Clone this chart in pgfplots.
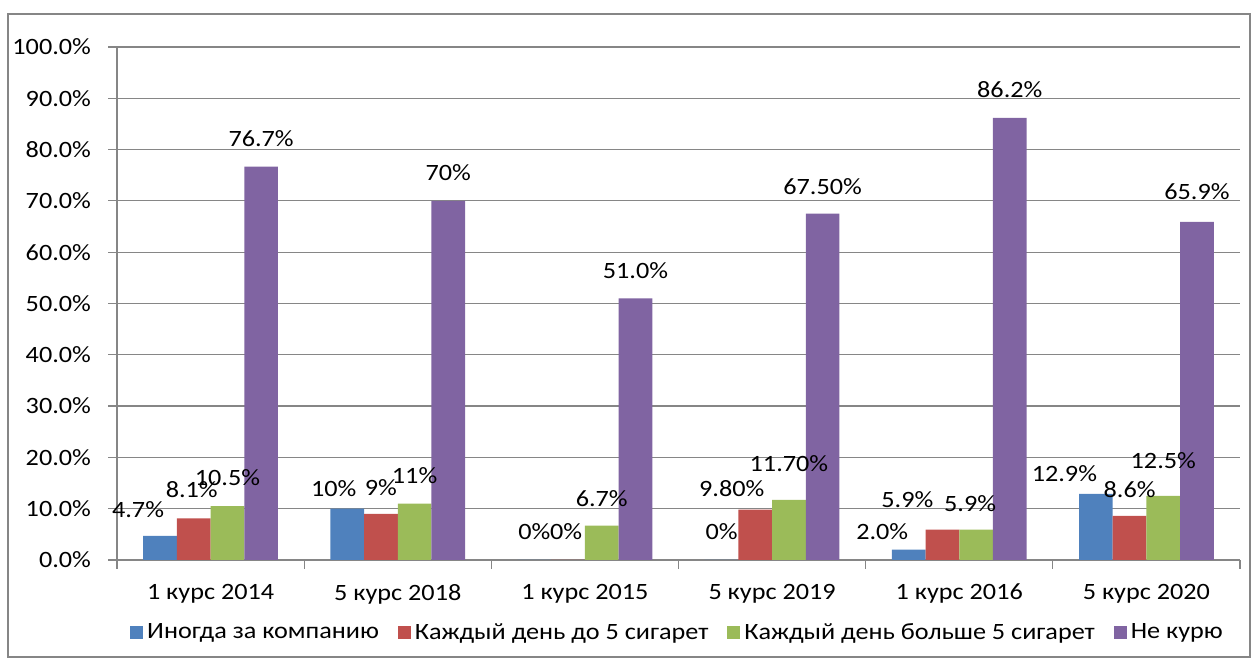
\documentclass[border=0pt]{standalone}
\usepackage{fontspec}
\setmainfont{Carlito}[FakeStretch=1.12]
\usepackage{pgfplots}
\pgfplotsset{compat=1.18}
\usepackage{pgfplotstable}

\definecolor{sBlue}{HTML}{4F81BD}
\definecolor{sRed}{HTML}{C0504D}
\definecolor{sGreen}{HTML}{9BBB59}
\definecolor{sPurple}{HTML}{8064A2}
\definecolor{axGray}{HTML}{868686}

\newcommand{\chartfont}{\fontsize{11.7}{14}\selectfont}

% x = group, y = percent, label = printed value, dx/dy = label offset in pt
\pgfplotstableread{
x y    label dx     dy
0 4.7  4.7   -11    13
1 10   10    -6.75  9.85
2 0    0     0      14
3 0    0     0      14
4 2.0  2.0   -13.25 9.3
5 12.9 12.9  -15.75 9.9
}\tblA
\pgfplotstableread{
x y    label dx     dy
0 8.1  8.1   -1     14.2
1 9    9     0      12.9
2 0    0     -1     14
3 9.8  9.80  -11.75 10.8
4 5.9  5.9   -17.5  15.3
5 8.6  8.6   0      13
}\tblB
\pgfplotstableread{
x y    label dx     dy
0 10.5 10.5  0      14.5
1 11   11    0      13.8
2 6.7  6.7   0      13.5
3 11.7 11.70 0      18.2
4 5.9  5.9   -3     13
5 12.5 12.5  0      17.5
}\tblC
\pgfplotstableread{
x y    label dx     dy
0 76.7 76.7  0      13.8
1 70   70    0      14
2 51.0 51.0  0      13.7
3 67.5 67.50 0      13.5
4 86.2 86.2  0      14
5 65.9 65.9  0      15
}\tblD

\begin{document}
\begin{tikzpicture}[font=\chartfont]
\begin{axis}[
  scale only axis, width=561.5pt, height=256.5pt,
  clip=false,
  ybar, bar width=0.18,
  xmin=-0.5, xmax=5.5, ymin=0, ymax=100,
  axis lines=left,
  axis line style={draw=axGray, line width=0.6pt, -},
  tick align=outside,
  tick style={draw=axGray, line width=0.6pt},
  major tick length=4.5pt,
  xtick={-0.5,0.5,...,5.5}, xticklabels={},
  extra x ticks={0,...,5},
  extra x tick labels={1 курс 2014, 5 курс 2018, 1 курс 2015, 5 курс 2019, 1 курс 2016, 5 курс 2020},
  extra x tick style={major tick length=0pt},
  xticklabel style={yshift=-8.5pt},
  ytick={0,10,...,100},
  yticklabel={\pgfmathprintnumber[fixed,fixed zerofill,precision=1]{\tick}\%},
  yticklabel style={xshift=-5pt},
  /pgf/number format/assume math mode=true,
  tick label style={font=\chartfont, text=black},
  ymajorgrids,
  major grid style={draw=axGray, line width=0.6pt},
  point meta=explicit symbolic,
  nodes near coords={\pgfplotspointmeta\%},
  visualization depends on={\thisrow{dx}\as\dx},
  visualization depends on={\thisrow{dy}\as\dy},
  nodes near coords style={font=\chartfont, text=black, anchor=center,
    xshift=\dx pt, yshift=\dy pt},
  legend style={at={(0.5,-0.142)}, anchor=center, draw=none, fill=none,
    font=\chartfont, legend columns=4,
    /tikz/every even column/.append style={column sep=7.5pt}},
  legend cell align=left,
  legend image code/.code={\fill[#1] (0pt,-3.25pt) rectangle (6.5pt,3.25pt);},
]
\addplot[fill=sBlue, draw=none, bar shift=-0.27] table[x=x, y=y, meta=label] {\tblA};
\addlegendentry{Иногда за компанию}
\addplot[fill=sRed, draw=none, bar shift=-0.09] table[x=x, y=y, meta=label] {\tblB};
\addlegendentry{Каждый день до 5 сигарет}
\addplot[fill=sGreen, draw=none, bar shift=0.09] table[x=x, y=y, meta=label] {\tblC};
\addlegendentry{Каждый день больше 5 сигарет}
\addplot[fill=sPurple, draw=none, bar shift=0.27] table[x=x, y=y, meta=label] {\tblD};
\addlegendentry{Не курю}

\coordinate (bbSW) at (rel axis cs:-0.10418,-0.19493);
\coordinate (bbNE) at (rel axis cs:1.01514,1.09162);
\coordinate (frSW) at (rel axis cs:-0.09706,-0.18908);
\coordinate (frNE) at (rel axis cs:1.00890,1.06433);
\end{axis}
\draw[axGray, line width=0.6pt] (frSW) rectangle (frNE);
\pgfresetboundingbox
\path (bbSW) rectangle (bbNE);
\end{tikzpicture}
\end{document}
